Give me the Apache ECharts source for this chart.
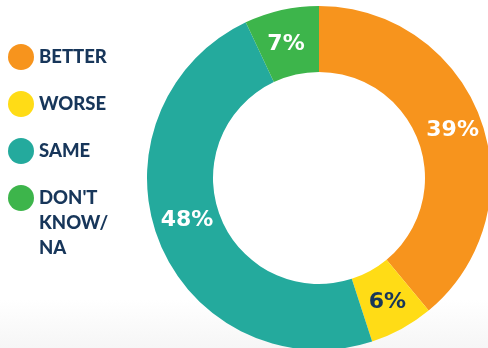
<!DOCTYPE html>
<html>
<head>
<meta charset="utf-8">
<script src="https://cdn.jsdelivr.net/npm/echarts@6/dist/echarts.min.js"></script>
<style>
  html, body { margin: 0; padding: 0; }
  body { background: linear-gradient(to bottom, #ffffff 0px, #ffffff 300px, #f6f6f6 348px); }
  #chart { width: 488px; height: 348px; }
</style>
</head>
<body>
<div id="chart"></div>
<script>
// Survey answers, in clockwise order from 12 o'clock
const categories = ['BETTER', 'WORSE', 'SAME', "DON'T KNOW/NA"];
const legendLabels = ['BETTER', 'WORSE', 'SAME', "DON'T\nKNOW/\nNA"];
const shares = [39, 6, 48, 7];
const sliceColors = ['#f7941d', '#ffdc16', '#24aa9d', '#3db54b'];
const labelColors = ['#ffffff', '#17365a', '#ffffff', '#ffffff'];

const navy = '#17365a';
const lineH = 25;
const box = 26;

const pieData = categories.map((name, i) => ({
  name: name,
  value: shares[i],
  itemStyle: { color: sliceColors[i] },
  label: { color: labelColors[i] }
}));

// two blank lines in front keep the first line of a wrapped entry level with its dot
const labelFor = name => {
  const text = legendLabels[categories.indexOf(name)];
  return text.indexOf('\n') >= 0 ? ' \n \n' + text : text;
};

const legendBase = {
  orient: 'vertical',
  left: 8,
  padding: 0,
  icon: 'circle',
  itemWidth: box,
  itemHeight: box,
  itemGap: 47 - box,
  itemTextGap: 11,
  selectedMode: false,
  itemStyle: { borderWidth: 0 },
  formatter: labelFor,
  textStyle: {
    fontFamily: 'Lato, sans-serif',
    fontWeight: 900,
    fontSize: 18.5,
    lineHeight: lineH,
    color: navy
  }
};

const chart = echarts.init(document.getElementById('chart'), null, { renderer: 'canvas' });
chart.setOption({
  backgroundColor: 'transparent',
  animation: false,
  legend: [
    Object.assign({}, legendBase, {
      top: 57 - box / 2,
      data: categories.slice(0, 3)
    }),
    Object.assign({}, legendBase, {
      top: 198 - lineH * 5 / 2,
      data: categories.slice(3)
    })
  ],
  series: [{
    type: 'pie',
    center: [319, 178],
    radius: [106, 172],
    startAngle: 90,
    clockwise: true,
    avoidLabelOverlap: false,
    silent: true,
    emphasis: { disabled: true },
    itemStyle: { borderWidth: 0 },
    label: {
      show: true,
      position: 'inside',
      formatter: '{c}%',
      fontFamily: '"DejaVu Sans", sans-serif',
      fontWeight: 'bold',
      fontSize: 22
    },
    labelLine: { show: false },
    labelLayout: function (p) {
      if (p.dataIndex === 2) return { dy: -10 };
      if (p.dataIndex === 3) return { dx: -2, dy: 5 };
      return {};
    },
    data: pieData
  }]
});
</script>
</body>
</html>
